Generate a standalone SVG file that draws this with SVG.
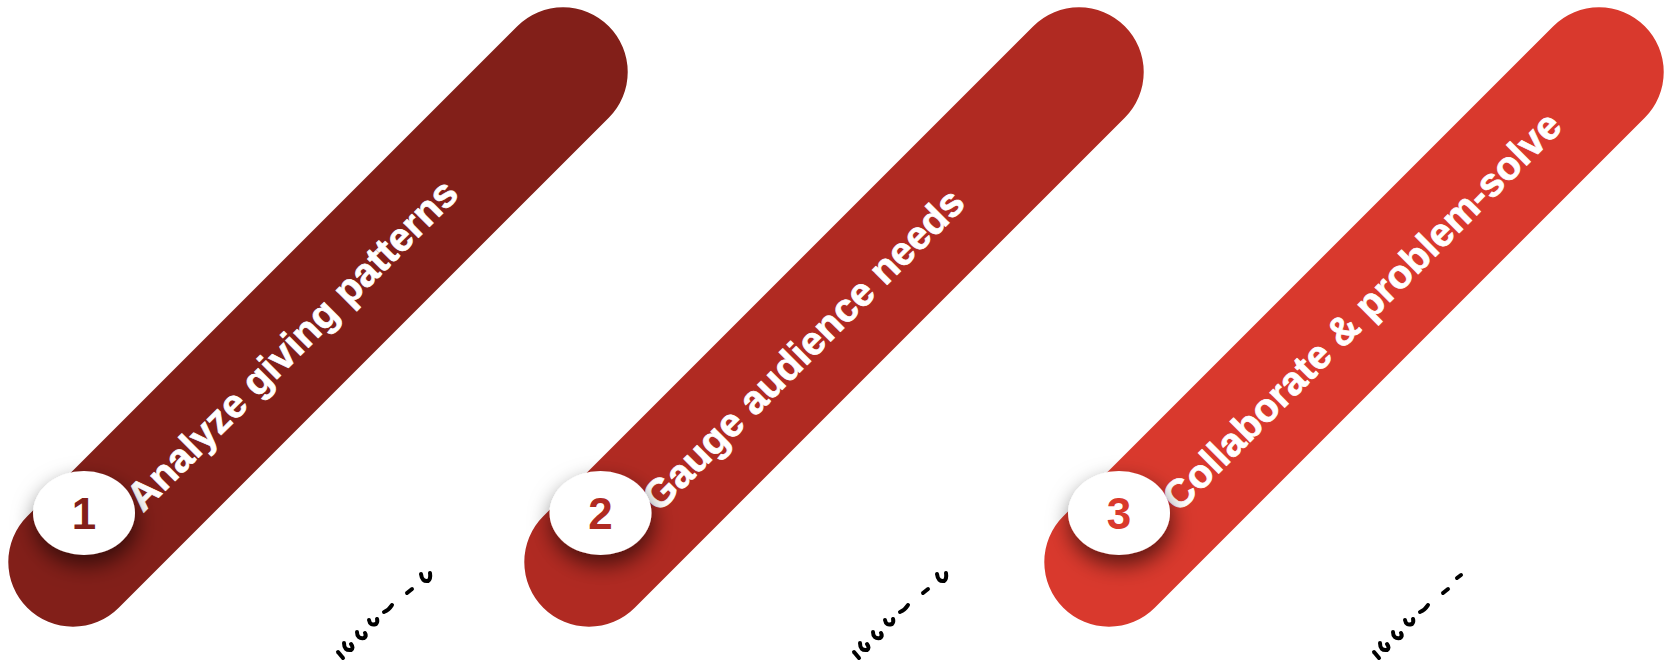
<svg xmlns="http://www.w3.org/2000/svg" width="1666" height="663" viewBox="0 0 1666 663">
  <defs>
    <filter id="sh" x="-60%" y="-60%" width="220%" height="220%">
      <feDropShadow dx="2" dy="10" stdDeviation="11" flood-color="#000" flood-opacity="0.6"/>
    </filter>
  </defs>
  <style>
    .frag{fill:none;stroke:#000;stroke-width:4;stroke-linecap:round}
    .lbl{font-size:40px;fill:#fff;stroke:#fff;stroke-width:0.7px}
    .num{font-size:44px;text-anchor:middle}
  </style>
  <rect width="1666" height="663" fill="#fff"/>

  <g id="step1" font-family="Liberation Sans, Arial, sans-serif" font-weight="700">
    <g transform="translate(73,562) rotate(-45)">
      <rect x="-64.7" y="-64.7" width="822.4" height="129.4" rx="64.7" fill="#821F19"/>
      <text class="lbl" x="84" y="15">Analyze giving patterns</text>
    </g>
    <ellipse cx="84" cy="513" rx="51" ry="42" fill="#fff" filter="url(#sh)"/>
    <text class="num" x="84" y="529" fill="#821F19">1</text>
  </g>

  <g id="step2" font-family="Liberation Sans, Arial, sans-serif" font-weight="700">
    <g transform="translate(589,562) rotate(-45)">
      <rect x="-64.7" y="-64.7" width="822.4" height="129.4" rx="64.7" fill="#B02A22"/>
      <text class="lbl" x="84" y="15">Gauge audience needs</text>
    </g>
    <ellipse cx="600.5" cy="513" rx="51" ry="42" fill="#fff" filter="url(#sh)"/>
    <text class="num" x="600.5" y="529" fill="#B02A22">2</text>
  </g>

  <g id="step3" font-family="Liberation Sans, Arial, sans-serif" font-weight="700">
    <g transform="translate(1109,562) rotate(-45)">
      <rect x="-64.7" y="-64.7" width="822.4" height="129.4" rx="64.7" fill="#D9392D"/>
      <text class="lbl" x="84" y="15">Collaborate &amp; problem-solve</text>
    </g>
    <ellipse cx="1119" cy="513" rx="51" ry="42" fill="#fff" filter="url(#sh)"/>
    <text class="num" x="1119" y="529" fill="#D9392D">3</text>
  </g>

  <g id="fragments">
    <g id="frag1">
      <path class="frag" d="M338 652 l5 6"/>
      <path class="frag" d="M344 643 q0 8 7 7 q3 -2 0 -6"/>
      <path class="frag" d="M357 632 q0 7 7 6 q3 -2 1 -5"/>
      <path class="frag" d="M369 620 q1 6 7 4 q2 -2 1 -5"/>
      <path class="frag" d="M384 612 q5 -2 8 -7"/>
      <path class="frag" d="M407 593 l5 -4" stroke-width="1.5"/>
      <path class="frag" d="M421 574 q1 8 7 7 q3 -2 2 -8"/>
    </g>
    <g id="frag2" transform="translate(516,0)">
      <path class="frag" d="M338 652 l5 6"/>
      <path class="frag" d="M344 643 q0 8 7 7 q3 -2 0 -6"/>
      <path class="frag" d="M357 632 q0 7 7 6 q3 -2 1 -5"/>
      <path class="frag" d="M369 620 q1 6 7 4 q2 -2 1 -5"/>
      <path class="frag" d="M384 612 q5 -2 8 -7"/>
      <path class="frag" d="M407 593 l5 -4" stroke-width="1.5"/>
      <path class="frag" d="M421 574 q1 8 7 7 q3 -2 2 -8"/>
    </g>
    <g id="frag3" transform="translate(1036,0)">
      <path class="frag" d="M338 652 l5 6"/>
      <path class="frag" d="M344 643 q0 8 7 7 q3 -2 0 -6"/>
      <path class="frag" d="M357 632 q0 7 7 6 q3 -2 1 -5"/>
      <path class="frag" d="M369 620 q1 6 7 4 q2 -2 1 -5"/>
      <path class="frag" d="M384 612 q5 -2 8 -7"/>
      <path class="frag" d="M407 593 l5 -4" stroke-width="1.5"/>
      <path class="frag" d="M421 578 l4 -3"/>
    </g>
  </g>
</svg>
